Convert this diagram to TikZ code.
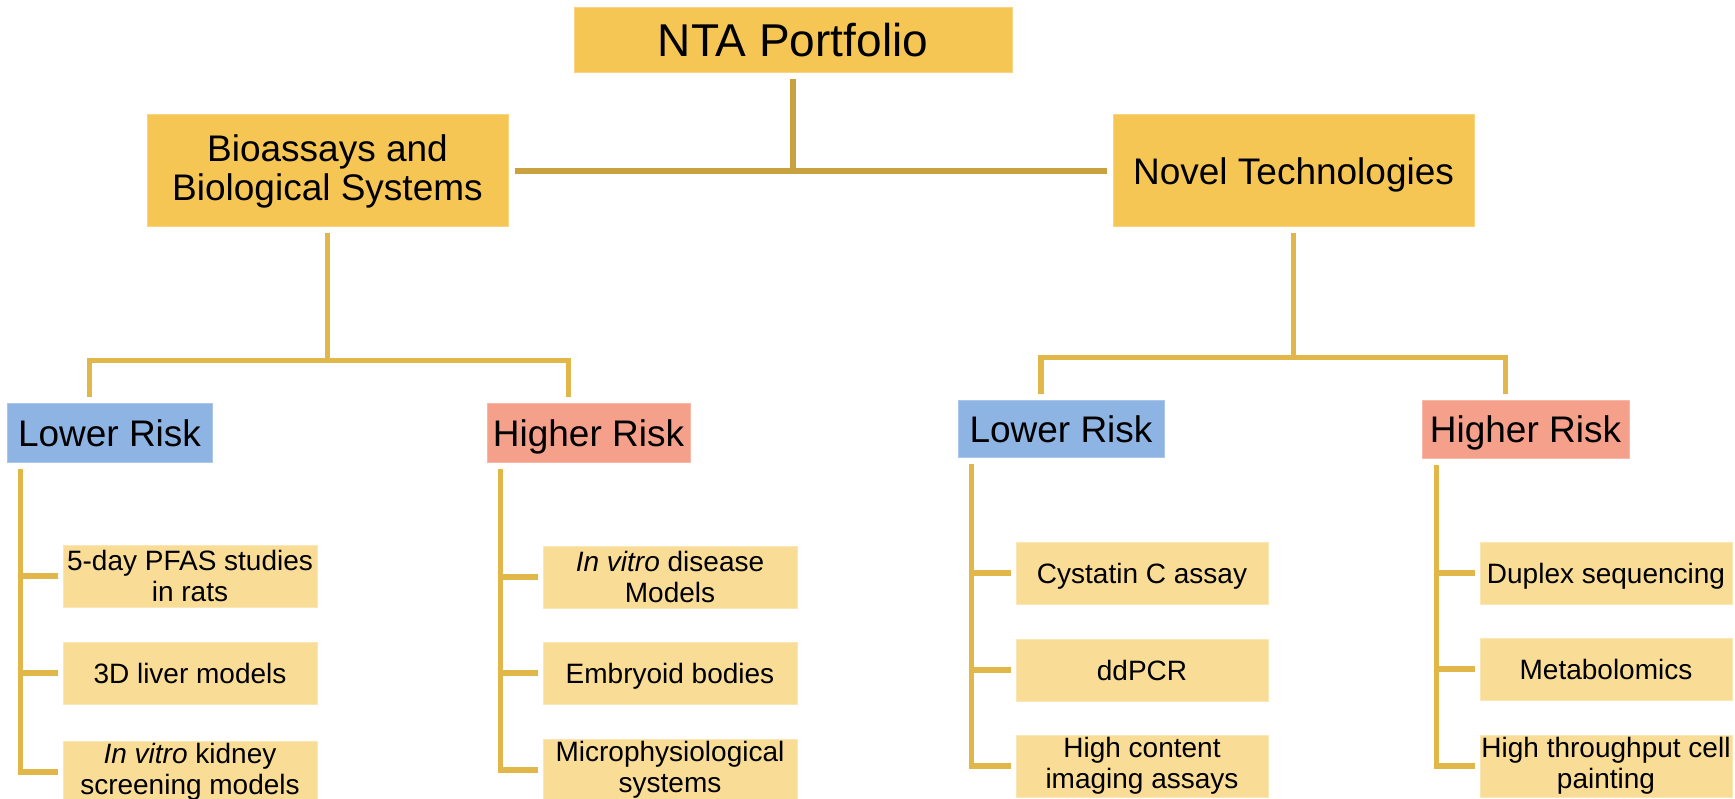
\documentclass[tikz,border=0pt]{standalone}
\usepackage{fontspec}
\setmainfont{Liberation Sans}
\usetikzlibrary{calc}
\definecolor{mainc}{HTML}{F5C654}
\definecolor{itemc}{HTML}{F9DC96}
\definecolor{lowc}{HTML}{8EB4E3}
\definecolor{highc}{HTML}{F4A08A}
\definecolor{topc}{HTML}{C9A13F}
\definecolor{linkc}{HTML}{E1B74A}
\begin{document}
\begin{tikzpicture}[x=1pt,y=-1pt,
  basebox/.style={inner sep=0pt, align=center, line width=1pt},
  mainbox/.style={basebox, fill=mainc, draw=mainc!75!white, minimum width=361pt, minimum height=112pt, font=\fontsize{37}{39}\selectfont},
  onel/.style={text height=26.5pt, text depth=0pt},
  lowbox/.style={basebox, fill=lowc, draw=lowc!75!white, font=\fontsize{37}{39}\selectfont, onel},
  highbox/.style={basebox, fill=highc, draw=highc!75!white, font=\fontsize{37}{39}\selectfont, onel},
  itembox/.style={basebox, fill=itemc, draw=itemc!70!white, minimum height=62pt, font=\fontsize{28}{31}\selectfont},
  oneitem/.style={text height=20pt, text depth=0pt},
  topline/.style={draw=topc, line width=5.5pt},
  lowline/.style={draw=linkc, line width=5.5pt}]
\useasboundingbox (0,0) rectangle (1735,799);
\clip (0,0) rectangle (1735,799);

% top level
\node[basebox, fill=mainc, draw=mainc!75!white, minimum width=438pt, minimum height=65pt,
      font=\fontsize{46}{50}\selectfont, text height=33pt, text depth=0pt] (nta) at (793,40.5) {NTA Portfolio};
\node[mainbox] (bio) at (327.5,171) {Bioassays and\\Biological Systems};
\node[mainbox, onel] (novel) at (1293.5,171) {Novel Technologies};

% risk level
\node[lowbox, minimum width=205pt, minimum height=58pt] (lr1) at (109.5,433) {Lower Risk};
\node[highbox, minimum width=203pt, minimum height=58pt] (hr1) at (588.5,433) {Higher Risk};
\node[lowbox, minimum width=206pt, minimum height=57pt] (lr2) at (1061,429) {Lower Risk};
\node[highbox, minimum width=207pt, minimum height=57pt] (hr2) at (1525.5,429.5) {Higher Risk};

% items
\node[itembox, minimum width=254pt] (a1) at (190,576) {5-day PFAS studies\\in rats};
\node[itembox, oneitem, minimum width=254pt] (a2) at (190,673) {3D liver models};
\node[itembox, minimum width=254pt] (a3) at (190,772) {\textit{In vitro} kidney\\screening models};

\node[itembox, minimum width=254pt] (b1) at (670,577) {\textit{In vitro} disease\\Models};
\node[itembox, oneitem, minimum width=254pt] (b2) at (670,673) {Embryoid bodies};
\node[itembox, minimum width=254pt] (b3) at (670,770) {Microphysiological\\systems};

\node[itembox, oneitem, minimum width=252pt] (c1) at (1142,573) {Cystatin C assay};
\node[itembox, oneitem, minimum width=252pt] (c2) at (1142,670) {ddPCR};
\node[itembox, minimum width=252pt] (c3) at (1142,766) {High content\\imaging assays};

\node[itembox, oneitem, minimum width=252pt] (d1) at (1606,573) {Duplex sequencing};
\node[itembox, oneitem, minimum width=252pt] (d2) at (1606,669) {Metabolomics};
\node[itembox, minimum width=252pt] (d3) at (1606,766) {High throughput cell\\painting};

% top connectors
\draw[topline] ([yshift=-6pt]nta.south) -- (nta.south |- bio.east);
\draw[topline] ([xshift=6pt]bio.east) -- ([xshift=-6pt]novel.west);

% bio branch
\coordinate (bioj) at ($(bio.south)+(0,133)$);
\draw[lowline] ([yshift=-6pt]bio.south) -- (bioj);
\draw[lowline] ([xshift=-20pt,yshift=6pt]lr1.north) |- (bioj) -| ([xshift=-20pt,yshift=6pt]hr1.north);

% novel branch
\coordinate (novj) at ($(novel.south)+(0,130)$);
\draw[lowline] ([yshift=-6pt]novel.south) -- (novj);
\draw[lowline] ([xshift=-20pt,yshift=6pt]lr2.north) |- (novj) -| ([xshift=-20pt,yshift=6pt]hr2.north);

% lists
\coordinate (lr1v) at ([xshift=14pt,yshift=-6pt]lr1.south west);
\draw[lowline] (lr1v) |- ([xshift=-5pt]a3.west);
\draw[lowline] (lr1v |- a1.west) -- ([xshift=-5pt]a1.west);
\draw[lowline] (lr1v |- a2.west) -- ([xshift=-5pt]a2.west);

\coordinate (hr1v) at ([xshift=14pt,yshift=-6pt]hr1.south west);
\draw[lowline] (hr1v) |- ([xshift=-5pt]b3.west);
\draw[lowline] (hr1v |- b1.west) -- ([xshift=-5pt]b1.west);
\draw[lowline] (hr1v |- b2.west) -- ([xshift=-5pt]b2.west);

\coordinate (lr2v) at ([xshift=14pt,yshift=-6pt]lr2.south west);
\draw[lowline] (lr2v) |- ([xshift=-5pt]c3.west);
\draw[lowline] (lr2v |- c1.west) -- ([xshift=-5pt]c1.west);
\draw[lowline] (lr2v |- c2.west) -- ([xshift=-5pt]c2.west);

\coordinate (hr2v) at ([xshift=15pt,yshift=-6pt]hr2.south west);
\draw[lowline] (hr2v) |- ([xshift=-5pt]d3.west);
\draw[lowline] (hr2v |- d1.west) -- ([xshift=-5pt]d1.west);
\draw[lowline] (hr2v |- d2.west) -- ([xshift=-5pt]d2.west);
\end{tikzpicture}
\end{document}
